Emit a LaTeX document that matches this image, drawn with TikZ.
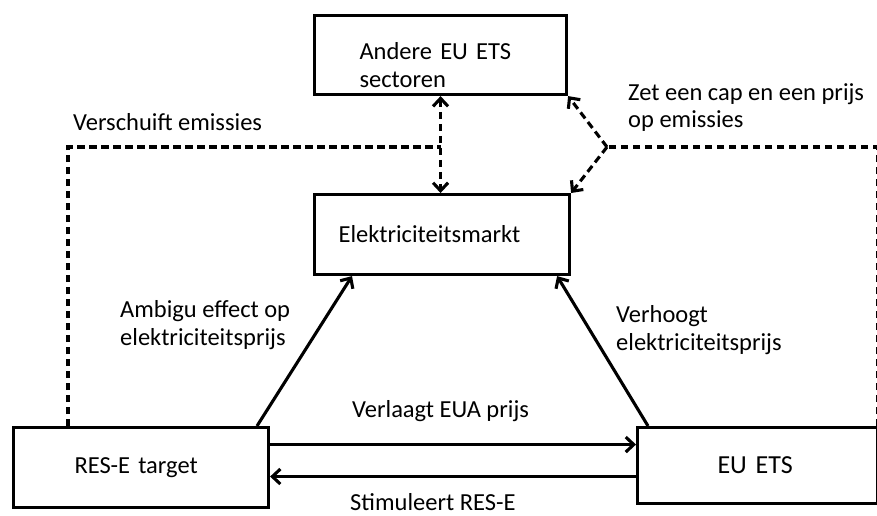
\documentclass[tikz,border=0pt]{standalone}
\usepackage{fontspec}
\setmainfont{Carlito}
\usetikzlibrary{arrows.meta,positioning,calc}

\begin{document}
\begin{tikzpicture}[
  x=1pt, y=-1pt,
  >={Straight Barb[length=8pt,width=15pt]},
  box/.style={draw, line width=3.1pt, align=left, inner ysep=0pt, minimum height=79pt,
    anchor=north west, font=\fontsize{24.5}{28}\selectfont},
  lbl/.style={align=left, anchor=base west, inner sep=0pt, font=\fontsize{24.5}{28}\selectfont},
  arr/.style={->, line width=3.1pt},
  dline/.style={line width=3.1pt, dash pattern=on 7.5pt off 4.5pt}
]
  \useasboundingbox (0,0) rectangle (877,516);

  % boxes
  \node[box, inner xsep=45pt, text width=162pt, text depth=8pt] (andere) at (313,14) {Andere EU ETS\\sectoren};
  \node[box, inner xsep=24pt, text width=207pt, minimum height=80pt] (markt) at (313,193) {Elektriciteitsmarkt};
  \node[box, inner xsep=61pt, text width=133pt, minimum height=80pt] (res) at (12,426) {RES-E target};
  \node[box, inner xsep=80pt, text width=80pt, minimum height=76pt, font=\fontsize{26}{30}\selectfont] (ets) at (636,426) {EU ETS};

  \coordinate (junction) at (andere.south |- 0,147);
  \coordinate (branch) at (607,147);

  % dashed links
  \draw[dline, <->] (andere.south) -- (markt.north -| andere.south);
  \draw[dline] ([xshift=56pt]res.north west) |- (junction);
  \draw[dline] ([xshift=-2pt]ets.north east) |- (branch);
  \draw[dline, ->] (branch) -- (andere.south east);
  \draw[dline, ->] (branch) -- (markt.north east);

  % solid links
  \draw[arr] ([xshift=245pt]res.north west) -- ([xshift=39pt]markt.south west);
  \draw[arr] ([xshift=12pt]ets.north west) -- ([xshift=-14pt]markt.south east);
  \draw[arr] ([yshift=23pt]res.east) -- ([yshift=23pt]res.east -| ets.west);
  \draw[arr] ([yshift=-9pt]res.east -| ets.west) -- ([yshift=-9pt]res.east);

  % labels (base = last line)
  \node[lbl] (verschuift) at (73,130) {Verschuift emissies};
  \node[lbl] (zet) at (628,128) {Zet een cap en een prijs\\op emissies};
  \node[lbl] (ambigu) at (120,345) {Ambigu effect op\\elektriciteitsprijs};
  \node[lbl] (verhoogt) at (616,350) {Verhoogt\\elektriciteitsprijs};
  \node[lbl] (verlaagt) at (352,417) {Verlaagt EUA prijs};
  \node[lbl] (stimuleert) at (350,510) {Stimuleert RES-E};
\end{tikzpicture}
\end{document}
